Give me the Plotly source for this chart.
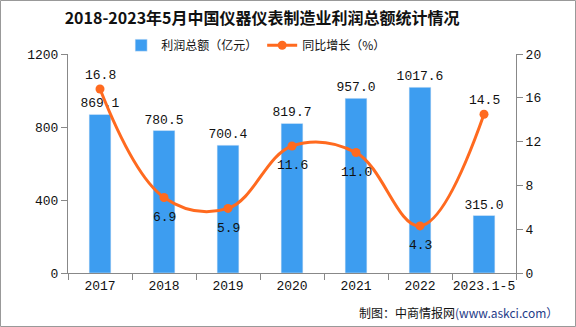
import plotly.graph_objects as go

categories = ["2017", "2018", "2019", "2020", "2021", "2022", "2023.1-5"]
profit = [869.1, 780.5, 700.4, 819.7, 957.0, 1017.6, 315.0]
growth = [16.8, 6.9, 5.9, 11.6, 11.0, 4.3, 14.5]
growth_above = [True, False, False, False, False, False, True]
left_ticks = [0, 400, 800, 1200]
right_ticks = [0, 4, 8, 12, 16, 20]

W, H = 576, 327
L, R, T, B = 68, 60, 54, 54
pw, ph = W - L - R, H - T - B

MONO = "Liberation Mono, DejaVu Sans Mono"
num_font = dict(family=MONO, size=13, color="#111")

fig = go.Figure()
fig.add_trace(go.Bar(
    x=categories, y=profit, name="利润总额（亿元）",
    marker=dict(color="#3D9DF0"), width=0.34,
    text=[f"{v:.1f}" for v in profit], textposition="outside",
    textfont=num_font, cliponaxis=False, constraintext="none",
))
fig.add_trace(go.Scatter(
    x=categories, y=growth, name="同比增长（%）", yaxis="y2",
    mode="lines+markers",
    line=dict(color="#FF6A1F", width=3, shape="spline", smoothing=1.1),
    marker=dict(color="#FF6A1F", size=9),
    cliponaxis=False,
))
for i, (v, up) in enumerate(zip(growth, growth_above)):
    fig.add_annotation(x=i, y=v, xref="x", yref="y2", text=f"{v:.1f}",
                       showarrow=False, yshift=14 if up else -20,
                       font=num_font)

fig.update_layout(
    width=W, height=H,
    margin=dict(l=L, r=R, t=T, b=B, autoexpand=False),
    paper_bgcolor="white", plot_bgcolor="white",
    title=dict(text="<b>2018-2023年5月中国仪器仪表制造业利润总额统计情况</b>",
               x=0.455, xanchor="center", y=0.945, yanchor="middle",
               font=dict(family="Noto Sans CJK SC", size=16, color="#111")),
    legend=dict(orientation="h", x=0.42, xanchor="center", y=1.04, yanchor="middle",
                font=dict(family="Noto Sans CJK SC", size=12, color="#111"),
                bgcolor="rgba(0,0,0,0)", itemwidth=30),
    showlegend=True,
    bargap=0.66,
    xaxis=dict(type="category", categoryorder="array", categoryarray=categories,
               range=[-0.5, 6.5],
               showline=True, linecolor="#888", linewidth=1,
               ticks="outside", tickcolor="#888", ticklen=6, tickangle=0,
               tickson="boundaries", showgrid=False, automargin=False,
               tickfont=dict(family=MONO, size=13, color="#111")),
    yaxis=dict(range=[0, 1200], tickvals=left_ticks, showline=True, linecolor="#888",
               ticks="outside", tickcolor="#888", ticklen=6, showgrid=False, zeroline=False,
               automargin=False,
               tickfont=dict(family=MONO, size=13, color="#111")),
    yaxis2=dict(range=[0, 20], tickvals=right_ticks, overlaying="y", side="right",
                showline=True, linecolor="#888", ticks="outside", tickcolor="#888",
                ticklen=6, showgrid=False, zeroline=False, automargin=False,
                tickfont=dict(family=MONO, size=13, color="#111")),
)

fig.add_annotation(
    text="制图：中商情报网<span style='color:#1f3c88'>(www.askci.com）</span>",
    xref="paper", yref="paper", x=(W - 16 - L) / pw, y=-(312 - T - ph) / ph,
    xanchor="right", yanchor="middle", showarrow=False,
    font=dict(family="Noto Sans CJK SC", size=12, color="#111"),
)
fig.add_shape(type="rect", xref="paper", yref="paper",
              x0=-(L - 0.5) / pw, x1=1 + (R - 0.5) / pw,
              y0=-(B - 0.5) / ph, y1=1 + (T - 0.5) / ph,
              line=dict(color="#999", width=1))

fig.write_html("out.html")
